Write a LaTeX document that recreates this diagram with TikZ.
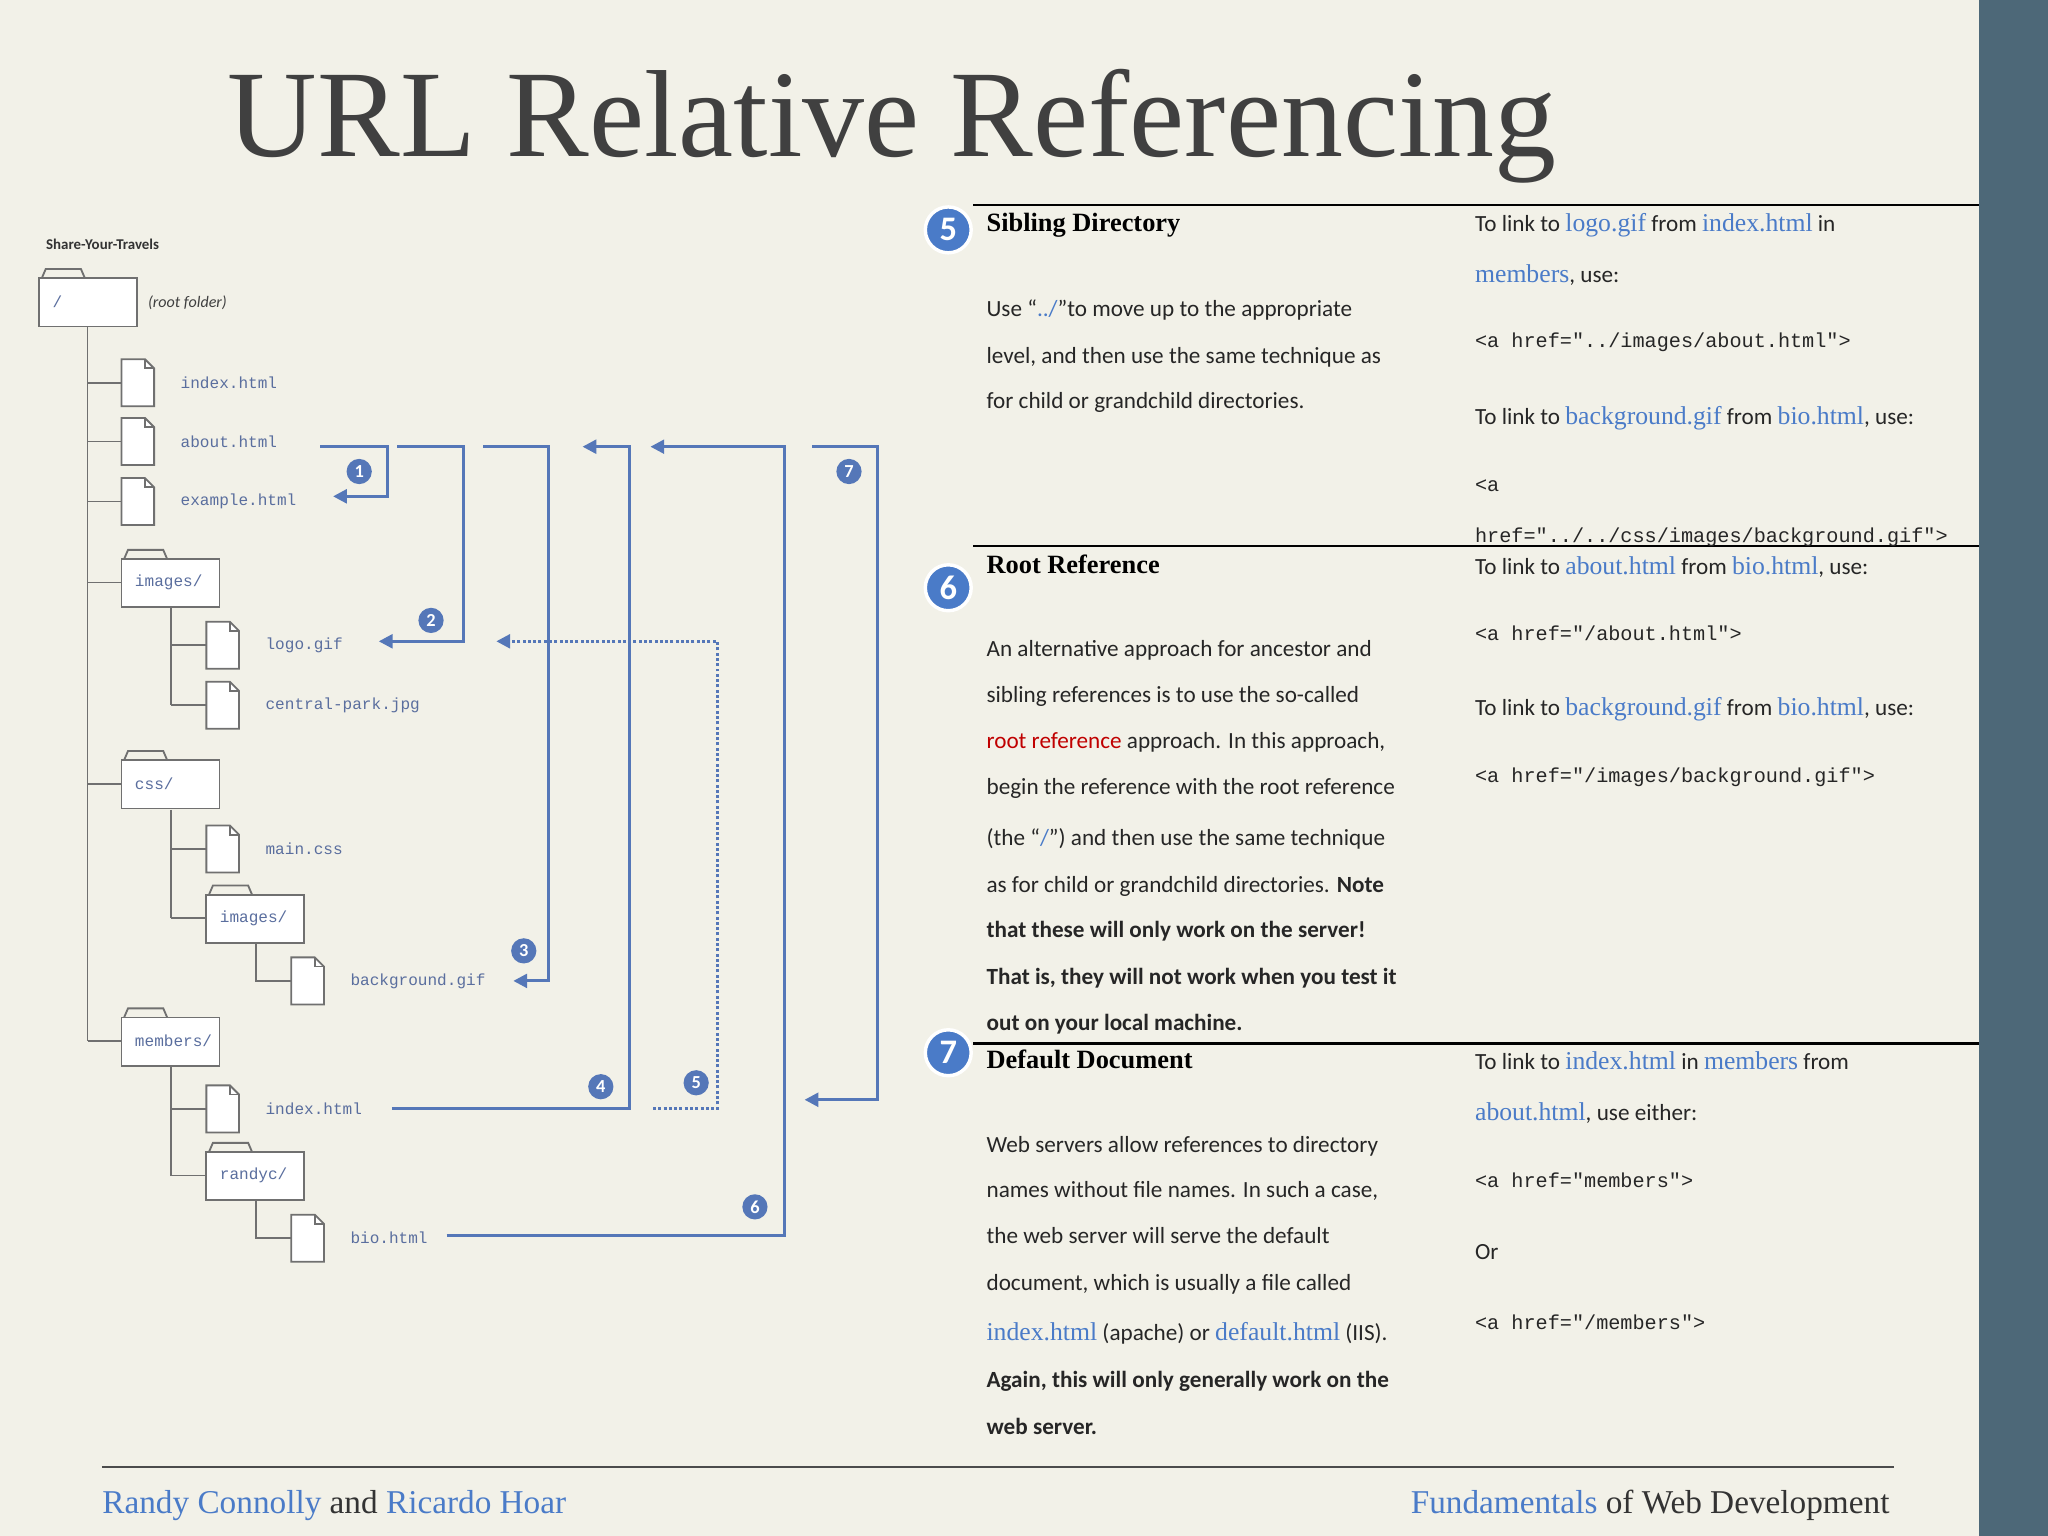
\documentclass[tikz,border=0pt]{standalone}
\usepackage{fontspec}
\setmainfont{Liberation Serif}
\setsansfont{Carlito}
\setmonofont{Liberation Mono}
\usetikzlibrary{arrows.meta}
\definecolor{bg}{HTML}{F2F1E8}
\definecolor{bar}{HTML}{4D6878}
\definecolor{nameblue}{HTML}{4A7BC8}
\definecolor{lnk}{HTML}{5577B8}
\definecolor{tree}{HTML}{707070}
\definecolor{tlab}{HTML}{5A6E9E}
\definecolor{ttl}{HTML}{404040}
\definecolor{rootred}{HTML}{C00000}
\newcommand\bn[1]{{\rmfamily\color{nameblue}\fontsize{11.2}{13}\selectfont #1}}
\tikzset{
 treeline/.style={draw=tree,line width=0.8pt},
 conn/.style={draw=lnk,line width=1.3pt},
 tip/.style={-{Triangle[width=6pt,length=6pt]}},
 tl/.style={anchor=west,font=\ttfamily\fontsize{7}{8}\selectfont,text=tlab,inner sep=0pt},
 badge/.style={circle,fill=lnk,text=white,inner sep=0pt,minimum size=11pt,font=\sffamily\bfseries\fontsize{8}{8}\selectfont},
 bigbadge/.style={circle,fill=nameblue,draw=white,line width=1.5pt,text=white,inner sep=0pt,minimum size=20pt,font=\sffamily\bfseries\fontsize{15}{15}\selectfont},
 head/.style={anchor=base west,inner sep=0pt,font=\rmfamily\bfseries\fontsize{11.5}{13}\selectfont},
 body/.style={anchor=base west,inner sep=0pt,font=\sffamily\fontsize{10.1}{11}\selectfont,text=black!85},
 code/.style={anchor=base west,inner sep=0pt,font=\ttfamily\fontsize{8.8}{10}\selectfont,text=black!85},
}
\newcommand\fold[3]{%
 \draw[treeline,fill=bg] (#1+2,#2-18)--(#1+5,#2-25)--(#1+32,#2-25)--(#1+35,#2-18);
 \draw[treeline,fill=white] (#1,#2-18) rectangle (#1+75,#2+19);
 \node[tl,font=\ttfamily\fontsize{7}{8}\selectfont] at (#1+10,#2) {#3};}
\newcommand\fil[2]{%
 \draw[treeline,fill=white] (#1,#2-18)--(#1+18,#2-18)--(#1+25,#2-11)--(#1+25,#2+18)--(#1,#2+18)--cycle;
 \draw[treeline] (#1+18,#2-18)--(#1+18,#2-11)--(#1+25,#2-11);}
\begin{document}
\begin{tikzpicture}[x=0.02cm,y=-0.02cm]
\fill[bg] (0,0) rectangle (1568,1176);
\fill[bar] (1515,0) rectangle (1568,1176);
\useasboundingbox (0,0) rectangle (1568,1176);
\node[anchor=base,text=ttl,font=\rmfamily\fontsize{54}{56}\selectfont,inner sep=0pt] (title) at (683,120) {URL Relative Referencing};
% tree
\node[anchor=west,inner sep=0pt,font=\sffamily\bfseries\fontsize{6.5}{7}\selectfont,text=black!80] (syt) at (35,187) {Share-Your-Travels};
\draw[treeline] (67,250)--(67,797);
\foreach \y in {293,338,384,446,600,797} \draw[treeline] (67,\y)--(93,\y);
\draw[treeline] (131,465)--(131,540); \foreach \y in {494,540} \draw[treeline] (131,\y)--(158,\y);
\draw[treeline] (131,620)--(131,703); \foreach \y in {650,703} \draw[treeline] (131,\y)--(158,\y);
\draw[treeline] (196,722)--(196,751)--(223,751);
\draw[treeline] (131,815)--(131,900); \foreach \y in {849,900} \draw[treeline] (131,\y)--(158,\y);
\draw[treeline] (196,919)--(196,948)--(223,948);
\fold{30}{231}{/}
\node[anchor=west,inner sep=0pt,font=\sffamily\itshape\fontsize{7}{8}\selectfont,text=black!75] (rf) at (113,232) {(root folder)};
\fil{93}{293}\node[tl] (f1) at (138,293) {index.html};
\fil{93}{338}\node[tl] (f2) at (138,338) {about.html};
\fil{93}{384}\node[tl] (f3) at (138,384) {example.html};
\fold{93}{446}{images/}
\fil{158}{494}\node[tl] (f4) at (203,494) {logo.gif};
\fil{158}{540}\node[tl] (f5) at (203,540) {central-park.jpg};
\fold{93}{600}{css/}
\fil{158}{650}\node[tl] (f6) at (203,650) {main.css};
\fold{158}{703}{images/}
\fil{223}{751}\node[tl] (f7) at (268,751) {background.gif};
\fold{93}{797}{members/}
\fil{158}{849}\node[tl] (f8) at (203,849) {index.html};
\fold{158}{900}{randyc/}
\fil{223}{948}\node[tl] (f9) at (268,948) {bio.html};
% connectors
\draw[conn,tip] (245,342)--(297,342)--(297,380)--(255,380);
\draw[conn,tip] (304,342)--(355,342)--(355,491)--(290,491);
\draw[conn,tip] (370,342)--(420,342)--(420,751)--(393,751);
\draw[conn,tip] (300,849)--(482,849)--(482,342)--(446,342);
\draw[conn,densely dotted,tip] (500,849)--(549,849)--(549,491)--(380,491);
\draw[conn,tip] (342,946)--(601,946)--(601,342)--(498,342);
\draw[conn,tip] (622,342)--(672,342)--(672,842)--(616,842);
\node[badge] (b1) at (275,361) {1};
\node[badge] (b2) at (330,475) {2};
\node[badge] (b3) at (401,728) {3};
\node[badge] (b4) at (460,832) {4};
\node[badge] (b5) at (533,829) {5};
\node[badge] (b6) at (578,924) {6};
\node[badge] (b7) at (650,361) {7};
% right side
\foreach \y in {157,418,799} \draw[black,line width=1.2pt] (745,\y)--(1515,\y);
\node[bigbadge] (B5) at (726,176) {5};
\node[bigbadge] (B6) at (726,450) {6};
\node[bigbadge] (B7) at (726,806) {7};
\node[head] (h5) at (755,177) {Sibling Directory};
\node[head] (h6) at (755,439) {Root Reference};
\node[head] (h7) at (755,818) {Default Document};
\node[body] at (755,242) {Use “{\color{nameblue}../}”to move up to the appropriate};
\node[body] at (755,278) {level, and then use the same technique as};
\node[body] at (755,313) {for child or grandchild directories.};
\node[body] at (755,503) {An alternative approach for ancestor and};
\node[body] at (755,538) {sibling references is to use the so-called};
\node[body] at (755,573) {{\color{rootred}root reference} approach. In this approach,};
\node[body] at (755,608) {begin the reference with the root reference};
\node[body] at (755,647) {(the “{\color{nameblue}/}”) and then use the same technique};
\node[body] at (755,683) {as for child or grandchild directories. \textbf{Note}};
\node[body] at (755,718) {\textbf{that these will only work on the server!}};
\node[body] at (755,754) {\textbf{That is, they will not work when you test it}};
\node[body] at (755,789) {\textbf{out on your local machine.}};
\node[body] at (755,882) {Web servers allow references to directory};
\node[body] at (755,917) {names without file names. In such a case,};
\node[body] at (755,952) {the web server will serve the default};
\node[body] at (755,988) {document, which is usually a file called};
\node[body] at (755,1026) {\bn{index.html} (apache) or \bn{default.html} (IIS).};
\node[body] at (755,1062) {\textbf{Again, this will only generally work on the}};
\node[body] at (755,1098) {\textbf{web server.}};
\node[body] at (1129,177) {To link to \bn{logo.gif} from \bn{index.html} in};
\node[body] at (1129,216) {\bn{members}, use:};
\node[code] at (1129,266) {<a href="../images/about.html">};
\node[body] at (1129,325) {To link to \bn{background.gif} from \bn{bio.html}, use:};
\node[code] at (1129,376) {<a};
\node[code] at (1129,415) {href="../../css/images/background.gif">};
\node[body] at (1129,440) {To link to \bn{about.html} from \bn{bio.html}, use:};
\node[code] at (1129,490) {<a href="/about.html">};
\node[body] at (1129,548) {To link to \bn{background.gif} from \bn{bio.html}, use:};
\node[code] at (1129,599) {<a href="/images/background.gif">};
\node[body] at (1129,819) {To link to \bn{index.html} in \bn{members} from};
\node[body] at (1129,858) {\bn{about.html}, use either:};
\node[code] at (1129,909) {<a href="members">};
\node[body] at (1129,964) {Or};
\node[code] at (1129,1018) {<a href="/members">};
% footer
\draw[black!70,line width=0.8pt] (78,1123)--(1450,1123);
\node[anchor=base west,inner sep=0pt,font=\rmfamily\fontsize{14.5}{16}\selectfont,text=black!80] (fl) at (78,1159) {{\color{nameblue}Randy Connolly} and {\color{nameblue}Ricardo Hoar}};
\node[anchor=base east,inner sep=0pt,font=\rmfamily\fontsize{14.5}{16}\selectfont,text=black!80] (fr) at (1447,1159) {{\color{nameblue}Fundamentals} of Web Development};
\end{tikzpicture}
\end{document}
